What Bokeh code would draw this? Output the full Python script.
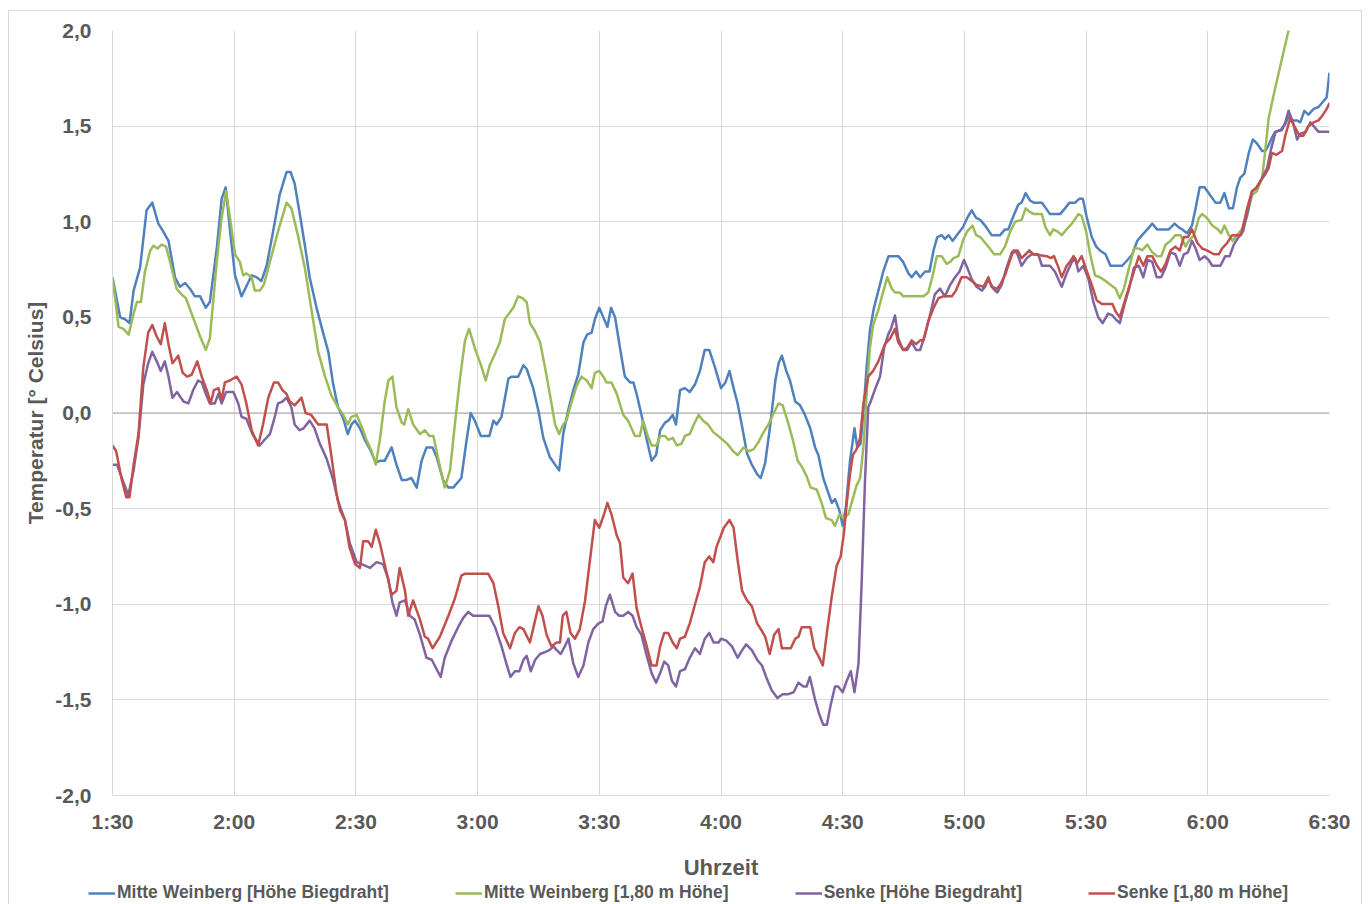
from bokeh.plotting import figure
from bokeh.models import FixedTicker, Span, Legend, LegendItem, Range1d
from bokeh.layouts import column
from bokeh.embed import file_html
from bokeh.resources import INLINE

# ---------------- data ----------------
tick_minutes = [90, 120, 150, 180, 210, 240, 270, 300, 330, 360, 390]
tick_labels = ["1:30", "2:00", "2:30", "3:00", "3:30", "4:00", "4:30", "5:00", "5:30", "6:00", "6:30"]
y_ticks = [-2.0, -1.5, -1.0, -0.5, 0.0, 0.5, 1.0, 1.5, 2.0]
y_tick_labels = ["-2,0", "-1,5", "-1,0", "-0,5", "0,0", "0,5", "1,0", "1,5", "2,0"]

series_names = ["Mitte Weinberg [Höhe Biegdraht]", "Mitte Weinberg [1,80 m Höhe]",
                "Senke [Höhe Biegdraht]", "Senke [1,80 m Höhe]"]

# minutes after midnight / temperature
blue_t = [90, 91.9, 93.1, 94.2, 95.2, 96.8, 98.4, 99.8, 101.3, 102.5, 103.8, 105.4, 106.6, 107.9, 109.1, 110.3,
          111.6, 113, 114, 115.7, 116.9, 117.9, 119, 120.2, 121.8, 123.4, 124.3, 125.5, 126.7, 128, 129.6, 131.2,
          132.9, 133.9, 134.9, 136.1, 137.4, 138.6, 140.3, 141.9, 143.2, 144.4, 145.6, 146.9, 148, 148.9, 149.8,
          151, 152.2, 153.5, 154.9, 155.9, 157.1, 158.8, 160, 161.3, 162.5, 163.7, 165, 166.2, 167.4, 168.9,
          169.9, 171.5, 172.8, 174, 176, 177.3, 178.3, 179.3, 180.8, 182.9, 183.9, 184.7, 185.9, 187.6, 188.4,
          190, 191.3, 192.1, 193.7, 195, 196.2, 197.8, 199.1, 200.1, 201.1, 202.4, 203.6, 204.8, 206.1, 207,
          208.1, 208.9, 210, 211, 212, 212.9, 213.9, 215.1, 216.3, 217.6, 218.4, 219.2, 220.4, 221.7, 222.9,
          224, 225, 226.2, 227, 228.1, 228.9, 229.9, 231.1, 232.3, 233.6, 234.8, 236, 237.1, 238.5, 240, 241.1,
          242.1, 243.1, 244.1, 245.2, 246.4, 247.6, 248.9, 249.8, 250.9, 252.1, 253.4, 254.2, 255, 256.1, 257,
          258.3, 259.5, 260.7, 262, 263.2, 264, 265.2, 266.5, 267.3, 268.1, 269.2, 270, 270.8, 271.8, 272.9,
          273.6, 274.4, 275.2, 275.9, 276.7, 277.7, 278.8, 280, 281.3, 283.7, 284.9, 286.2, 287, 288.1, 289.1,
          290.3, 291.4, 292.4, 293.3, 294.4, 295.2, 296.1, 297.1, 298.5, 299.6, 300.7, 301.8, 302.9, 303.9,
          305.1, 306.7, 308.8, 310, 310.8, 312.1, 313.3, 314.1, 315.1, 316.2, 317.1, 319.1, 321.1, 323.6, 324.8,
          325.9, 327.3, 328.3, 329.2, 330.2, 331.4, 332.5, 333.4, 334.8, 336, 338.9, 340.2, 341.4, 342.6, 343.8,
          345.1, 346.3, 347.5, 350.4, 351.8, 352.9, 353.7, 354.9, 356.1, 357, 358, 359.2, 360.2, 361.9, 363.1,
          364.1, 365.2, 366.2, 367.2, 368, 369, 370.1, 371.1, 372.1, 373.4, 374.2, 375, 375.8, 376.6, 377.9,
          379.1, 379.9, 380.7, 382, 382.8, 383.8, 384.8, 386.1, 387.3, 388.5, 389.3, 390]
blue_v = [0.71, 0.50, 0.49, 0.47, 0.64, 0.76, 1.06, 1.10, 0.99, 0.95, 0.90, 0.71, 0.66, 0.68, 0.65, 0.61,
          0.61, 0.55, 0.58, 0.86, 1.12, 1.18, 0.95, 0.72, 0.61, 0.68, 0.72, 0.71, 0.69, 0.77, 0.95, 1.14,
          1.26, 1.26, 1.20, 1.05, 0.88, 0.71, 0.55, 0.42, 0.32, 0.15, 0.03, -0.03, -0.11, -0.06, -0.04,
          -0.08, -0.14, -0.19, -0.26, -0.25, -0.25, -0.18, -0.27, -0.35, -0.35, -0.34, -0.39, -0.25, -0.18, -0.18,
          -0.23, -0.35, -0.39, -0.39, -0.34, -0.14, 0.0, -0.04, -0.12, -0.12, -0.04, -0.06, -0.02, 0.18, 0.19,
          0.19, 0.25, 0.23, 0.13, 0.01, -0.13, -0.23, -0.27, -0.30, -0.11, 0.02, 0.12, 0.20, 0.37, 0.41,
          0.42, 0.49, 0.55, 0.50, 0.45, 0.55, 0.50, 0.34, 0.19, 0.16, 0.16, 0.10, -0.01, -0.14, -0.25,
          -0.22, -0.09, -0.05, -0.04, -0.01, -0.06, 0.12, 0.13, 0.11, 0.15, 0.22, 0.33, 0.33, 0.24, 0.13, 0.16,
          0.22, 0.13, 0.05, -0.07, -0.21, -0.27, -0.32, -0.34, -0.26, -0.07, 0.17, 0.26, 0.30, 0.22, 0.17,
          0.06, 0.04, -0.01, -0.08, -0.18, -0.22, -0.34, -0.42, -0.47, -0.45, -0.51, -0.59, -0.49, -0.25, -0.08,
          -0.18, -0.16, 0.03, 0.24, 0.43, 0.55, 0.64, 0.74, 0.82, 0.82, 0.79, 0.73, 0.71, 0.74, 0.71,
          0.74, 0.74, 0.85, 0.92, 0.93, 0.91, 0.93, 0.90, 0.94, 0.97, 1.02, 1.06, 1.02, 1.01,
          0.98, 0.93, 0.93, 0.96, 0.96, 1.03, 1.09, 1.10, 1.15, 1.11, 1.10, 1.10, 1.04, 1.04, 1.07,
          1.10, 1.10, 1.12, 1.12, 1.02, 0.92, 0.87, 0.85, 0.83, 0.77, 0.77, 0.80, 0.83, 0.90, 0.93,
          0.96, 0.99, 0.96, 0.96, 0.99, 0.97, 0.96, 0.94, 0.98, 1.07, 1.18, 1.18, 1.15, 1.10, 1.10,
          1.15, 1.07, 1.07, 1.18, 1.23, 1.25, 1.36, 1.43, 1.41, 1.37, 1.37, 1.40, 1.44, 1.47, 1.48,
          1.51, 1.55, 1.53, 1.53, 1.52, 1.58, 1.56, 1.59, 1.60, 1.63, 1.65, 1.78]

green_t = [90, 91.5, 92.7, 94, 95.2, 96, 97, 98, 99.3, 100.1, 101.1, 102.1, 103.2, 104.2, 105.8, 107, 108.1,
           109.5, 111.6, 113, 114, 115.7, 116.9, 118, 119.1, 120.2, 121.4, 122.2, 123, 124.3, 125.1, 126.3,
           127.3, 128.8, 130.8, 132.9, 134.1, 135.7, 137.4, 139.5, 140.7, 142.4, 144, 145.6, 146.9, 148, 148.9,
           150.2, 151.4, 152.6, 153.9, 154.9, 155.9, 157.1, 158, 159, 160, 161.3, 161.9, 162.9, 164.1, 165.8,
           167, 168.1, 169.1, 170.7, 171.9, 173.2, 174.4, 175.6, 176.9, 177.9, 179.3, 181, 182, 183, 184.3,
           185.5, 186.7, 188.8, 190, 191.1, 192.1, 192.9, 194.1, 195.4, 196.6, 197.8, 199.1, 200.1, 201.1,
           201.9, 203.2, 204.4, 205.6, 206.9, 208.1, 208.9, 210, 211, 211.8, 213, 214.3, 215.9, 217.1, 218.8,
           220, 220.8, 222.1, 222.9, 224.1, 225, 226.2, 227, 228.1, 229.1, 230.3, 231.1, 232.3, 233.3, 234.5,
           235.6, 236.8, 238.1, 239.3, 241.5, 243, 244.1, 245.6, 246.8, 248, 249.3, 250.5, 251.7, 253, 254.2,
           255.2, 256.4, 257.7, 258.9, 259.9, 261.1, 262.1, 263.6, 264.8, 265.9, 267.3, 268.1, 269.2, 270.2,
           271.4, 272.6, 273.4, 274.3, 275.1, 275.9, 276.7, 277.5, 278.8, 279.8, 281, 282.1, 282.9, 284.1,
           284.9, 289.9, 291.1, 292.2, 293.2, 294.4, 295.6, 296.5, 297.3, 298.5, 299.8, 300.7, 302, 302.9,
           303.9, 305.1, 305.9, 307.3, 308.8, 310, 311.3, 312.5, 314.1, 315.1, 316.2, 317.1, 319.1, 320,
           321.1, 321.9, 322.9, 324, 325.2, 326.5, 328.1, 328.9, 330, 331, 332.2, 333.4, 334.8, 336, 337.3,
           338.3, 339.3, 340.6, 341.8, 343, 343.8, 345.1, 346.3, 347.5, 348.5, 349.6, 350.8, 352, 353.3,
           354.5, 355.3, 356.6, 357.8, 358.6, 359.8, 361.1, 362.5, 363.3, 364.1, 365.2, 366.1, 367.2, 368.4,
           369.7, 370.9, 372.1, 373.4, 374.2, 375, 376.2, 377.5, 378.7, 379.9, 381]
green_v = [0.71, 0.45, 0.44, 0.41, 0.52, 0.58, 0.58, 0.74, 0.85, 0.875, 0.86, 0.88, 0.87, 0.79, 0.65, 0.62, 0.60,
           0.52, 0.40, 0.33, 0.39, 0.79, 1.02, 1.16, 1.00, 0.83, 0.79, 0.72, 0.73, 0.71, 0.64, 0.64,
           0.67, 0.79, 0.95, 1.10, 1.07, 0.93, 0.76, 0.48, 0.32, 0.19, 0.09, 0.03, -0.01, -0.06, -0.02,
           -0.01, -0.07, -0.14, -0.20, -0.27, -0.14, 0.06, 0.17, 0.19, 0.03, -0.05, -0.06, 0.02, -0.06, -0.11,
           -0.09, -0.12, -0.12, -0.28, -0.39, -0.30, -0.06, 0.17, 0.38, 0.44, 0.34, 0.24, 0.17, 0.25, 0.31,
           0.37, 0.49, 0.55, 0.61, 0.60, 0.58, 0.47, 0.43, 0.37, 0.24, 0.10, -0.06, -0.11, -0.06,
           -0.04, 0.06, 0.14, 0.19, 0.17, 0.13, 0.21, 0.22, 0.19, 0.16, 0.16, 0.10, -0.01, -0.04, -0.12,
           -0.12, -0.04, -0.13, -0.17, -0.17, -0.12, -0.12, -0.14, -0.13, -0.17, -0.16, -0.12, -0.11, -0.06, -0.01,
           -0.04, -0.06, -0.10, -0.12, -0.16, -0.20, -0.22, -0.18, -0.20, -0.19, -0.15, -0.10, -0.06, 0.00, 0.05,
           0.04, -0.04, -0.14, -0.25, -0.28, -0.33, -0.39, -0.40, -0.47, -0.55, -0.56, -0.59, -0.53, -0.55,
           -0.53, -0.44, -0.38, -0.34, -0.18, 0.10, 0.34, 0.46, 0.54, 0.62, 0.71, 0.65, 0.63, 0.63,
           0.61, 0.61, 0.63, 0.72, 0.82, 0.82, 0.78, 0.79, 0.81, 0.82, 0.91, 0.95, 0.98, 0.93,
           0.92, 0.89, 0.87, 0.83, 0.83, 0.87, 0.95, 1.00, 1.01, 1.07, 1.05, 1.04, 1.04, 0.97,
           0.93, 0.96, 0.95, 0.93, 0.96, 0.99, 1.04, 1.03, 0.95, 0.83, 0.72, 0.71, 0.69, 0.67, 0.65,
           0.60, 0.65, 0.76, 0.86, 0.86, 0.85, 0.88, 0.84, 0.82, 0.82, 0.88, 0.90, 0.93, 0.93,
           0.87, 0.90, 0.93, 1.02, 1.04, 1.02, 0.98, 0.96, 0.94, 0.98, 0.93, 0.90, 0.93, 0.96,
           1.03, 1.14, 1.16, 1.23, 1.38, 1.54, 1.66, 1.78, 1.89, 2.00, 2.10]

purple_t = [90, 91.1, 92.3, 93.9, 95.2, 96.4, 97.6, 98.8, 99.8, 100.9, 101.9, 102.9, 103.8, 104.8, 105.9, 107.5,
            108.7, 109.9, 111.1, 112, 113, 114, 115.2, 116.1, 116.9, 118, 119.8, 121, 121.8, 123, 124.5, 126.3,
            127.5, 128.8, 130, 130.8, 131.9, 132.9, 134.1, 134.9, 136.1, 137.1, 138.6, 139.8, 141.1, 142.8,
            144.4, 145.6, 147.3, 148.5, 150.2, 151.4, 153.5, 155.1, 156.7, 158, 159, 160, 160.8, 162.1, 163.3,
            164.5, 165.8, 167.4, 168.7, 169.9, 170.9, 171.9, 173.6, 175.2, 176.5, 177.7, 178.9, 182.9, 184.3,
            185.9, 187.1, 188.1, 189.2, 190.3, 191.3, 192.1, 193.1, 194.2, 195.4, 196.6, 197.7, 198.7, 199.5,
            200.5, 201.5, 202.4, 203.6, 204.8, 206.1, 207.3, 208.5, 209.8, 210.8, 211.6, 212.6, 213.9, 214.9,
            215.9, 217.1, 218.2, 219.2, 220.4, 221.7, 222.9, 224, 225, 226, 227, 227.9, 228.9, 229.9, 231.1,
            232.3, 233.6, 234.8, 236, 237.1, 238.2, 239.4, 240, 241.3, 242.7, 244.1, 245.2, 246.2, 247.6, 248.9,
            250.1, 251.3, 252.5, 253.9, 255.2, 256.6, 257.9, 259.1, 260.3, 261.1, 261.9, 263.2, 264.3, 265.2,
            266.1, 267, 268.1, 268.9, 270, 271, 272, 272.9, 273.9, 274.7, 275.5, 276.3, 276.9, 277.9, 279.2,
            280.2, 281.2, 281.9, 282.9, 283.7, 284.9, 285.9, 287, 288.1, 289.1, 290.3, 291.5, 292.7, 294,
            295.2, 296.5, 297.7, 298.8, 299.9, 300.7, 301.8, 303, 304.3, 305.1, 305.9, 307.1, 308.1, 309.2,
            310.4, 311.7, 312.9, 314.1, 315.4, 316.6, 318.2, 319.1, 321.1, 322.3, 324, 325.2, 326.5, 327.3,
            328.1, 329.3, 330.6, 331.8, 333, 334.1, 335.4, 336.5, 337.3, 338.3, 339.5, 340.6, 341.8, 343,
            344.1, 345.2, 346.3, 347.4, 348.5, 349.6, 350.8, 352, 353.1, 354.1, 355.1, 356.1, 357, 358, 359.2,
            360.2, 361.1, 363.1, 364.3, 365.4, 366.4, 367.6, 368.7, 369.7, 370.9, 372.1, 373.4, 374.6, 375.6,
            376.7, 378.3, 379.1, 379.9, 381, 382, 382.8, 384.1, 385.3, 386.1, 387.3, 390]
purple_v = [-0.27, -0.27, -0.34, -0.43, -0.30, -0.13, 0.15, 0.26, 0.32, 0.27, 0.22, 0.27, 0.19, 0.08, 0.11, 0.06,
            0.05, 0.12, 0.17, 0.16, 0.10, 0.05, 0.05, 0.10, 0.05, 0.11, 0.11, 0.05, -0.02, -0.03, -0.11, -0.17,
            -0.14, -0.11, -0.02, 0.05, 0.06, 0.08, 0.03, -0.06, -0.09, -0.08, -0.04, -0.08, -0.16, -0.24,
            -0.35, -0.46, -0.56, -0.68, -0.78, -0.79, -0.81, -0.78, -0.79, -0.87, -0.99, -1.06, -0.99, -0.98, -1.06,
            -1.08, -1.16, -1.28, -1.29, -1.34, -1.38, -1.28, -1.19, -1.12, -1.07, -1.04, -1.06, -1.06, -1.12,
            -1.22, -1.31, -1.38, -1.35, -1.35, -1.29, -1.27, -1.35, -1.29, -1.26, -1.25, -1.24, -1.22, -1.24,
            -1.26, -1.22, -1.18, -1.31, -1.38, -1.32, -1.20, -1.13, -1.10, -1.09, -1.01, -0.95, -1.04, -1.06,
            -1.06, -1.04, -1.06, -1.12, -1.16, -1.27, -1.36, -1.41, -1.36, -1.30, -1.32, -1.40, -1.43, -1.35, -1.34,
            -1.28, -1.23, -1.26, -1.18, -1.15, -1.20, -1.20, -1.18, -1.19, -1.22, -1.28, -1.24, -1.21, -1.24, -1.29,
            -1.32, -1.39, -1.45, -1.49, -1.47, -1.47, -1.46, -1.41, -1.43, -1.43, -1.38, -1.50, -1.58, -1.63,
            -1.63, -1.53, -1.43, -1.43, -1.46, -1.40, -1.35, -1.46, -1.31, -0.87, -0.35, 0.03, 0.06, 0.12, 0.19,
            0.34, 0.41, 0.44, 0.51, 0.39, 0.33, 0.33, 0.37, 0.33, 0.33, 0.41, 0.51, 0.62, 0.65,
            0.61, 0.67, 0.71, 0.74, 0.80, 0.76, 0.70, 0.66, 0.64, 0.66, 0.70, 0.65, 0.63, 0.67,
            0.76, 0.84, 0.84, 0.77, 0.81, 0.83, 0.83, 0.77, 0.77, 0.74, 0.66, 0.73, 0.79, 0.81,
            0.74, 0.77, 0.70, 0.58, 0.50, 0.47, 0.52, 0.51, 0.49, 0.47, 0.57, 0.65, 0.76, 0.77,
            0.71, 0.80, 0.79, 0.71, 0.71, 0.76, 0.84, 0.83, 0.77, 0.83, 0.84, 0.90, 0.86, 0.80, 0.82,
            0.80, 0.77, 0.77, 0.82, 0.82, 0.88, 0.92, 0.95, 1.04, 1.16, 1.18, 1.23, 1.28, 1.38,
            1.47, 1.48, 1.52, 1.58, 1.52, 1.43, 1.46, 1.47, 1.52, 1.50, 1.47, 1.47]

red_t = [90, 90.9, 92.3, 93.4, 94.2, 95.2, 96.4, 97.6, 98.8, 99.8, 100.9, 101.9, 102.9, 103.8, 104.8, 106.2,
         107.3, 108.4, 109.5, 110.9, 112, 113.4, 114.2, 115, 116.1, 116.9, 117.7, 118.9, 120.6, 121.8, 123,
         124.3, 125.9, 127.1, 128.4, 129.8, 130.8, 131.9, 132.9, 133.7, 134.9, 136.6, 137.6, 139, 140.7, 142.8,
         144, 145.2, 146.1, 147.3, 148.4, 149.8, 151, 151.8, 153, 153.9, 154.9, 155.9, 157.4, 158.8, 160,
         160.8, 162.1, 162.9, 164.1, 165.8, 167, 167.8, 168.9, 170.7, 172.8, 174.4, 176, 176.9, 182.6, 183.9,
         185.1, 186.3, 188, 189.2, 190.3, 191.3, 192.9, 194, 195, 196, 197, 198.2, 199.5, 200.3, 201, 201.9,
         202.9, 204, 205.2, 206.5, 207.7, 208.9, 210, 211, 212, 213, 214.3, 215.1, 215.9, 217.1, 218.2, 219.2,
         220.4, 221.7, 222.9, 224.1, 225, 226, 227, 228.1, 229.1, 229.9, 231.1, 232.3, 233.6, 234.8, 236,
         237.1, 238.1, 238.9, 240.7, 242.1, 243.1, 244.1, 245.2, 246.4, 247.6, 248.9, 250.1, 250.9, 252,
         253.1, 254.2, 255, 256.2, 257.2, 258.3, 259.1, 259.9, 262, 263, 264, 265.1, 266.1, 267.3, 268.5,
         269.5, 270.3, 271, 271.8, 272.5, 273.4, 274.3, 275.1, 276.3, 277.5, 278.8, 280.4, 281.7, 282.9,
         283.7, 284.9, 285.9, 287, 288.1, 289.1, 289.9, 291.1, 292.4, 293.6, 294.8, 296.9, 297.9, 299.3,
         300.6, 301.8, 303, 304.7, 305.9, 306.7, 308, 308.8, 310, 311.1, 312.1, 313.1, 314.1, 315.1, 316,
         317, 320.3, 321.3, 322.1, 323.2, 324, 325.2, 326, 326.9, 327.7, 328.9, 330.2, 331.4, 332.6, 333.9,
         336.5, 337.3, 338.3, 339.3, 340.6, 341.8, 343, 344.1, 345.1, 346.3, 347.5, 348.5, 349.6, 350.8,
         352, 353.1, 354.1, 355.1, 356.1, 357.4, 358.6, 359.8, 361.5, 362.7, 363.5, 364.8, 366, 368.2,
         369.7, 370.9, 371.7, 372.9, 374.2, 375, 375.8, 376.9, 378.3, 379.1, 380.3, 381.6, 382.6, 383.6,
         384.8, 386.1, 387.3, 388.4, 389.3, 390]
red_v = [-0.17, -0.20, -0.35, -0.44, -0.44, -0.27, -0.11, 0.24, 0.42, 0.46, 0.40, 0.36, 0.47, 0.36, 0.26, 0.30,
         0.21, 0.19, 0.20, 0.27, 0.19, 0.11, 0.05, 0.12, 0.13, 0.07, 0.16, 0.17, 0.19, 0.15, 0.05,
         -0.09, -0.17, -0.06, 0.08, 0.16, 0.16, 0.12, 0.10, 0.06, 0.04, 0.08, 0.00, -0.01, -0.06, -0.06,
         -0.23, -0.42, -0.51, -0.56, -0.70, -0.79, -0.81, -0.67, -0.67, -0.70, -0.61, -0.68, -0.82, -0.95, -0.93,
         -0.81, -0.93, -1.06, -0.98, -1.08, -1.17, -1.18, -1.23, -1.17, -1.06, -0.97, -0.85, -0.84, -0.84, -0.89,
         -1.01, -1.15, -1.23, -1.15, -1.12, -1.13, -1.20, -1.10, -1.01, -1.06, -1.16, -1.22, -1.20, -1.20, -1.06, -1.04,
         -1.15, -1.18, -1.13, -0.98, -0.77, -0.56, -0.60, -0.54, -0.47, -0.53, -0.64, -0.68, -0.86, -0.89, -0.84, -1.02,
         -1.12, -1.22, -1.32, -1.32, -1.22, -1.15, -1.15, -1.20, -1.23, -1.18, -1.17, -1.10, -1.00, -0.91, -0.78,
         -0.75, -0.78, -0.70, -0.60, -0.56, -0.60, -0.77, -0.93, -0.98, -1.01, -1.10, -1.14, -1.17, -1.26,
         -1.16, -1.13, -1.23, -1.23, -1.23, -1.18, -1.17, -1.12, -1.12, -1.23, -1.27, -1.32, -1.15, -0.96, -0.80,
         -0.75, -0.63, -0.47, -0.32, -0.22, -0.19, -0.13, 0.05, 0.19, 0.22, 0.27, 0.36, 0.39, 0.44,
         0.37, 0.33, 0.34, 0.38, 0.36, 0.38, 0.38, 0.48, 0.55, 0.60, 0.61, 0.61, 0.64, 0.71,
         0.71, 0.69, 0.67, 0.66, 0.71, 0.66, 0.65, 0.67, 0.72, 0.79, 0.85, 0.85, 0.81, 0.83, 0.85,
         0.83, 0.82, 0.81, 0.82, 0.76, 0.71, 0.77, 0.79, 0.82, 0.78, 0.82, 0.74, 0.67, 0.59, 0.57,
         0.57, 0.53, 0.50, 0.57, 0.66, 0.74, 0.82, 0.77, 0.82, 0.82, 0.77, 0.74, 0.78, 0.85,
         0.87, 0.85, 0.92, 0.92, 0.96, 0.89, 0.86, 0.85, 0.83, 0.83, 0.86, 0.89, 0.93, 0.93,
         1.07, 1.16, 1.17, 1.21, 1.25, 1.28, 1.36, 1.35, 1.37, 1.45, 1.54, 1.49, 1.45, 1.45,
         1.50, 1.52, 1.53, 1.56, 1.59, 1.62]

# ---------------- styles ----------------
FONT = "Liberation Sans"
TXT = "#595959"
colors = ["#4F81BD", "#9BBB59", "#8064A2", "#C0504D"]
series = [(blue_t, blue_v), (green_t, green_v), (purple_t, purple_v), (red_t, red_v)]

p = figure(width=1352, height=871, output_backend="svg", toolbar_location=None,
           x_range=Range1d(90, 390), y_range=Range1d(-2, 2),
           min_border_left=103, min_border_right=32, min_border_top=19, min_border_bottom=87)
p.frame_align = False
p.outline_line_color = None
p.background_fill_color = "white"
p.border_fill_color = "white"

p.xaxis.ticker = FixedTicker(ticks=tick_minutes)
p.xaxis.major_label_overrides = {t: s for t, s in zip(tick_minutes, tick_labels)}
p.yaxis.ticker = FixedTicker(ticks=y_ticks)
p.yaxis.major_label_overrides = {t: s for t, s in zip(y_ticks, y_tick_labels)}

for ax in (p.xaxis[0], p.yaxis[0]):
    ax.axis_line_color = "#d9d9d9"
    ax.major_tick_line_color = None
    ax.minor_tick_line_color = None
    ax.major_tick_out = 0
    ax.major_tick_in = 0
    ax.major_label_text_font = FONT
    ax.major_label_text_font_style = "bold"
    ax.major_label_text_font_size = "21px"
    ax.major_label_text_color = TXT
    ax.axis_label_text_font = FONT
    ax.axis_label_text_font_style = "bold"
    ax.axis_label_text_color = TXT

p.xaxis.axis_label = "Uhrzeit"
p.xaxis.axis_label_text_font_size = "22px"
p.xaxis.major_label_standoff = 14
p.xaxis.axis_label_standoff = 19
p.yaxis.axis_label = "Temperatur [° Celsius]"
p.yaxis.axis_label_text_font_size = "21px"
p.yaxis.major_label_standoff = 21
p.yaxis.axis_label_standoff = 5

p.xgrid.ticker = FixedTicker(ticks=tick_minutes[:-1])
p.ygrid.ticker = FixedTicker(ticks=y_ticks)
p.xgrid.grid_line_color = "#d9d9d9"
p.ygrid.grid_line_color = "#d9d9d9"

p.add_layout(Span(location=0, dimension="width", line_color="#a6a6a6", line_width=1, level="underlay"))

for (t, v), c in zip(series, colors):
    p.line(t, v, line_color=c, line_width=2.5, line_join="round")

# legend strip below the chart: same series drawn again but outside its (0..1) view,
# so only the legend entries are visible
lf = figure(width=1352, height=22, output_backend="svg", toolbar_location=None,
            x_range=Range1d(0, 1), y_range=Range1d(0, 1), x_axis_location=None, y_axis_location=None,
            min_border=0)
lf.frame_align = False
lf.outline_line_color = None
lf.grid.visible = False
lf.background_fill_color = "white"
lf.border_fill_color = "white"
leg_renderers = [lf.line(t, v, line_color=c, line_width=2.5) for (t, v), c in zip(series, colors)]
legend = Legend(items=[LegendItem(label=n, renderers=[r]) for n, r in zip(series_names, leg_renderers)],
                orientation="horizontal", location=(79, 1),
                label_text_font=FONT, label_text_font_style="bold", label_text_font_size="17.5px",
                label_text_color=TXT, glyph_width=27, label_standoff=2, spacing=66,
                label_height=20, glyph_height=20,
                padding=0, margin=0, border_line_color=None, background_fill_alpha=0)
lf.add_layout(legend)

layout = column(p, lf, spacing=0)
layout.styles = {"margin-left": "8px", "margin-top": "10px",
                 "border-left": "1px solid #d9d9d9", "border-top": "1px solid #d9d9d9",
                 "border-right": "1px solid #d9d9d9"}

open("out.html", "w").write(file_html(layout, INLINE))
